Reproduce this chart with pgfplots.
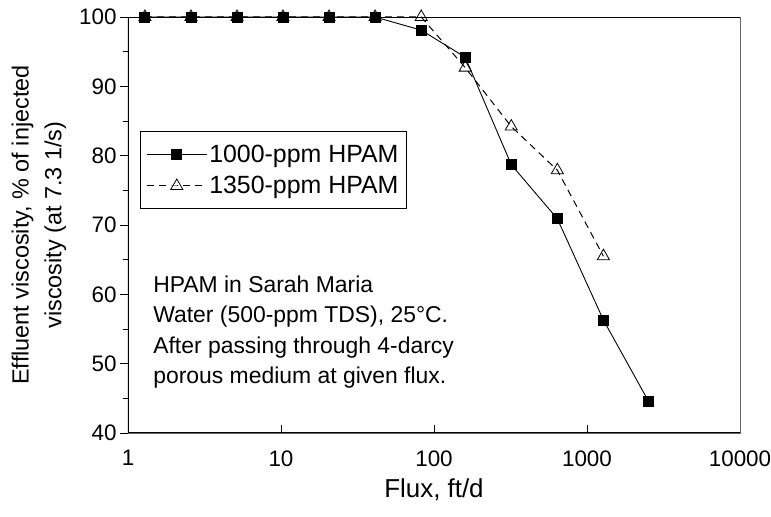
\documentclass[border=0pt]{standalone}
\usepackage{pgfplots}
\pgfplotsset{compat=1.18}
\usepackage{fontspec}
\setmainfont{Liberation Sans}
\begin{document}
\begin{tikzpicture}
\begin{axis}[
  scale only axis,
  width=612bp, height=416bp,
  xmode=log,
  xmin=1, xmax=10000,
  ymin=40, ymax=100,
  log basis x=10,
  xtick={1,10,100,1000,10000},
  xticklabels={1,10,100,1000,10000},
  ytick={40,50,60,70,80,90,100},
  minor ytick={45,55,65,75,85,95},
  xtick pos=bottom, ytick pos=left,
  tick align=inside,
  major tick length=8bp,
  minor tick length=5bp,
  major y tick style={xshift=-8bp},
  minor y tick style={xshift=-5bp},
  tick style={black, line width=0.8pt},
  axis line style={black!60, line width=0.6pt},
  ticklabel style={font=\fontsize{22.5}{26}\selectfont},
  /pgf/number format/assume math mode=true,
  xticklabel style={yshift=-14bp},
  yticklabel style={xshift=-8bp},
  xlabel={Flux, ft/d},
  xlabel style={font=\fontsize{26}{30}\selectfont, yshift=-6bp},
  ylabel style={font=\fontsize{23.5}{33}\selectfont, align=center, yshift=6bp},
  ylabel={Effluent viscosity, \% of injected\\viscosity (at 7.3 1/s)},
  legend style={at={(rel axis cs:0.0196,0.725)}, anchor=north west,
    font=\fontsize{25}{29}\selectfont, draw=black, line width=0.6pt,
    inner xsep=6bp, inner ysep=11bp, row sep=9bp},
  legend cell align=left,
  legend image code/.code={\draw[mark repeat=2,mark phase=2,#1] plot coordinates {(0bp,0bp) (30bp,0bp) (60bp,0bp)};},
]
\addplot[black, line width=0.9pt, mark=square*, mark size=5bp, mark options={solid}]
  coordinates {(1.29,100) (2.58,100) (5.16,100) (10.3,100) (20.6,100) (41.2,100)
   (82.5,98.1) (160,94.2) (320,78.7) (640,70.9) (1280,56.3) (2520,44.6)};
\addlegendentry{1000-ppm HPAM}
\addplot[black, line width=1.0pt, dashed, dash pattern=on 7bp off 5bp, mark=triangle, mark size=7bp, mark options={solid, fill=white, line width=0.8pt}]
  coordinates {(1.29,100) (2.58,100) (5.16,100) (10.3,100) (20.6,100) (41.2,100)
   (82.5,100) (160,92.7) (320,84.2) (640,77.9) (1280,65.5)};
\addlegendentry{1350-ppm HPAM}
\draw[black, line width=1.4pt] (rel axis cs:0,1) -- (rel axis cs:0,0) -- (rel axis cs:1,0);
\draw[black, line width=0.6pt] (rel axis cs:0,1) -- (rel axis cs:1,1);
\node[anchor=north west, align=left, inner sep=0pt, font=\fontsize{23}{30.5}\selectfont]
  at (rel axis cs:0.041,0.378) {HPAM in Sarah Maria\\Water (500-ppm TDS), 25\textdegree C.\\After passing through 4-darcy\\porous medium at given flux.};
\coordinate (sw) at (rel axis cs:0,0);
\coordinate (ne) at (rel axis cs:1,1);
\end{axis}
\pgfresetboundingbox
\path[use as bounding box] ([shift={(-128bp,-84bp)}]sw) rectangle ([shift={(31bp,17bp)}]ne);
\end{tikzpicture}
\end{document}
